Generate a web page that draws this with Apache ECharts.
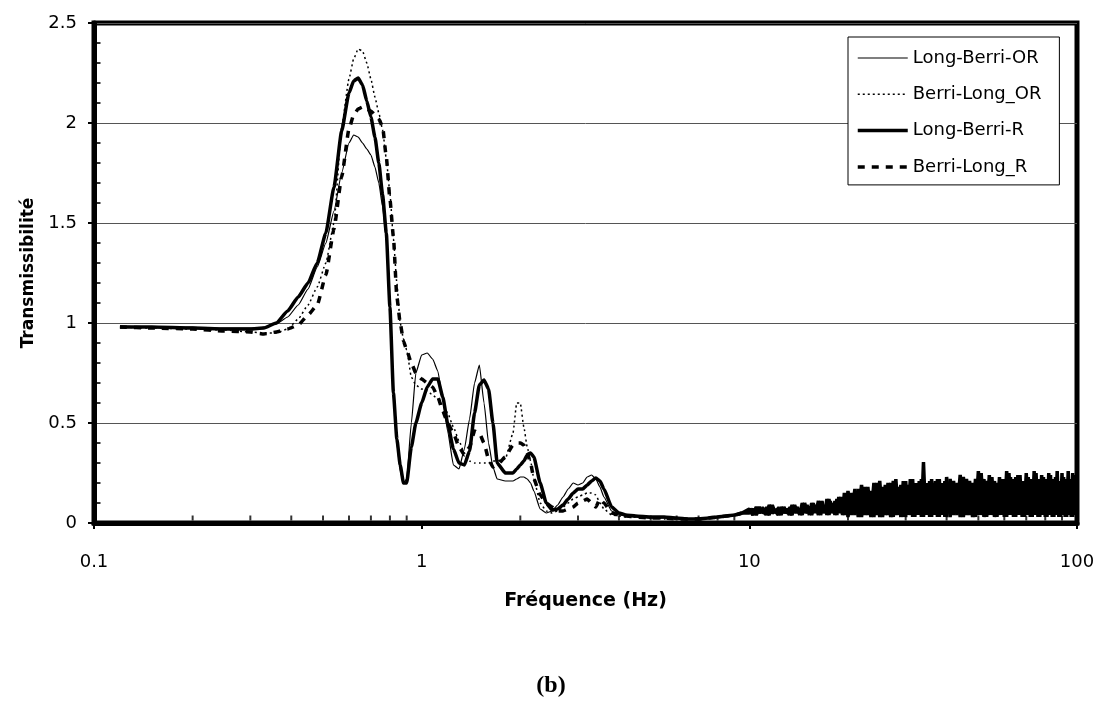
<!DOCTYPE html>
<html><head><meta charset="utf-8">
<script src="https://cdn.jsdelivr.net/npm/echarts@6/dist/echarts.min.js"></script>
<style>html,body{margin:0;padding:0;background:#fff}#c{width:1102px;height:704px}</style>
</head><body><div id="c"></div>
<script>
// ---------- DATA ----------
const seriesNames = ['Long-Berri-OR', 'Berri-Long_OR', 'Long-Berri-R', 'Berri-Long_R'];

// low-frequency grid (Hz)
const freqLF = [
  0.12,0.15,0.2,0.25,0.3,0.33,0.36,0.39,0.42,0.45,
  0.48,0.51,0.54,0.57,0.6,0.62,0.64,0.66,0.68,0.7,
  0.72,0.74,0.76,0.78,0.8,0.82,0.84,0.86,0.88,0.9,
  0.93,0.96,1.0,1.04,1.08,1.12,1.16,1.2,1.25,1.3,
  1.35,1.4,1.45,1.5,1.55,1.6,1.65,1.7,1.8,1.9,
  1.95,2.0,2.05,2.1,2.15,2.2,2.3,2.4,2.5,2.6,
  2.7,2.8,2.9,3.0,3.1,3.2,3.3,3.4,3.5,3.6,
  3.8,4.0,4.2,4.5,5.0,5.5,6.0,6.5,7.0,7.5,
  8.0,8.5,9.0,9.5
];
// high-frequency grid (Hz)
const freqHF = [
  10,10.25,10.5,10.75,11,11.25,11.5,11.75,12,12.25,
  12.5,12.75,13,13.25,13.5,13.75,14,14.25,14.5,14.75,
  15,15.25,15.5,15.75,16,16.25,16.5,16.75,17,17.25,
  17.5,17.75,18,18.25,18.5,18.75,19,19.25,19.5,19.75,
  20,20.5,21,21.5,22,22.5,23,23.5,24,24.5,
  25,25.5,26,26.5,27,27.5,28,28.5,29,29.5,
  30,30.5,31,31.5,32,32.5,33,33.5,34,34.5,
  35,35.5,36,36.5,37,37.5,38,38.5,39,39.5,
  40,41,42,43,44,45,46,47,48,49,
  50,51,52,53,54,55,56,57,58,59,
  60,61,62,63,64,65,66,67,68,69,
  70,71,72,73,74,75,76,77,78,79,
  80,81,82,83,84,85,86,87,88,89,
  90,91,92,93,94,95,96,97,98,99,
  100
];

// Long-Berri-OR (thin solid)
const longBerriOR_LF = [
  0.985,0.98,0.98,0.975,0.975,0.98,0.995,1.03,1.09,1.17,
  1.28,1.4,1.56,1.75,1.9,1.94,1.93,1.9,1.87,1.84,
  1.78,1.7,1.58,1.42,1.05,0.66,0.4,0.26,0.2,0.22,
  0.5,0.75,0.84,0.85,0.82,0.76,0.62,0.46,0.29,0.27,
  0.37,0.52,0.7,0.79,0.6,0.4,0.28,0.22,0.21,0.21,
  0.22,0.23,0.23,0.22,0.2,0.16,0.07,0.05,0.06,0.09,
  0.13,0.17,0.2,0.19,0.2,0.23,0.24,0.22,0.18,0.13,
  0.06,0.04,0.035,0.03,0.025,0.025,0.02,0.02,0.02,0.025,
  0.03,0.035,0.04,0.05
];
const longBerriOR_HF = [
  0.06,0.05,0.07,0.06,0.05,0.08,0.06,0.05,0.07,0.06,
  0.05,0.07,0.06,0.08,0.05,0.07,0.06,0.05,0.08,0.06,
  0.07,0.05,0.09,0.06,0.07,0.05,0.1,0.06,0.08,0.05,
  0.1,0.06,0.09,0.05,0.11,0.06,0.1,0.05,0.12,0.06,
  0.1,0.06,0.14,0.08,0.12,0.05,0.15,0.08,0.13,0.06,
  0.16,0.07,0.13,0.05,0.17,0.08,0.14,0.06,0.18,0.07,
  0.14,0.05,0.17,0.08,0.13,0.06,0.18,0.07,0.14,0.05,
  0.18,0.08,0.14,0.06,0.17,0.07,0.15,0.05,0.18,0.08,
  0.15,0.06,0.18,0.08,0.14,0.05,0.19,0.07,0.15,0.06,
  0.2,0.08,0.15,0.05,0.19,0.07,0.14,0.06,0.2,0.08,
  0.16,0.05,0.19,0.07,0.15,0.06,0.2,0.08,0.16,0.05,
  0.21,0.07,0.15,0.06,0.19,0.08,0.16,0.05,0.2,0.07,
  0.16,0.06,0.2,0.08,0.15,0.05,0.21,0.07,0.16,0.06,
  0.19,0.08,0.15,0.05,0.21,0.07,0.16,0.06,0.2,0.08,
  0.15
];

// Berri-Long_OR (dotted)
const berriLongOR_LF = [
  0.98,0.975,0.97,0.965,0.955,0.95,0.95,0.97,1.02,1.09,
  1.18,1.3,1.5,1.98,2.22,2.32,2.37,2.36,2.3,2.22,
  2.13,2.05,1.965,1.82,1.65,1.42,1.2,1.0,0.92,0.865,
  0.73,0.69,0.67,0.66,0.64,0.62,0.59,0.55,0.48,0.41,
  0.35,0.31,0.3,0.3,0.3,0.3,0.31,0.31,0.32,0.45,
  0.6,0.6,0.48,0.38,0.31,0.22,0.1,0.06,0.05,0.06,
  0.08,0.1,0.12,0.13,0.14,0.15,0.15,0.14,0.1,0.07,
  0.04,0.035,0.03,0.03,0.025,0.02,0.02,0.02,0.02,0.025,
  0.03,0.035,0.04,0.05
];
const berriLongOR_HF = [
  0.05,0.07,0.06,0.05,0.08,0.06,0.05,0.07,0.06,0.08,
  0.05,0.06,0.07,0.05,0.08,0.06,0.07,0.05,0.09,0.06,
  0.05,0.08,0.06,0.1,0.05,0.07,0.06,0.11,0.05,0.08,
  0.06,0.11,0.05,0.09,0.06,0.12,0.05,0.1,0.06,0.13,
  0.05,0.13,0.07,0.15,0.05,0.16,0.07,0.14,0.05,0.17,
  0.07,0.15,0.05,0.17,0.08,0.18,0.05,0.16,0.07,0.18,
  0.05,0.16,0.08,0.19,0.05,0.17,0.07,0.18,0.05,0.16,
  0.07,0.19,0.05,0.17,0.08,0.18,0.05,0.19,0.07,0.17,
  0.06,0.19,0.08,0.17,0.05,0.21,0.07,0.18,0.06,0.2,
  0.08,0.22,0.05,0.18,0.07,0.21,0.06,0.19,0.08,0.21,
  0.05,0.19,0.07,0.23,0.06,0.18,0.08,0.21,0.05,0.2,
  0.07,0.22,0.06,0.18,0.08,0.21,0.05,0.2,0.07,0.23,
  0.06,0.19,0.08,0.21,0.05,0.19,0.07,0.24,0.06,0.2,
  0.08,0.21,0.05,0.19,0.07,0.22,0.06,0.21,0.08,0.2,
  0.06
];

// Long-Berri-R (thick solid)
const longBerriR_LF = [
  0.98,0.98,0.975,0.97,0.97,0.975,1.0,1.06,1.13,1.2,
  1.3,1.45,1.68,1.96,2.15,2.21,2.225,2.19,2.11,2.03,
  1.93,1.8,1.64,1.45,1.08,0.65,0.42,0.29,0.2,0.2,
  0.38,0.5,0.6,0.68,0.72,0.72,0.63,0.5,0.37,0.3,
  0.29,0.36,0.55,0.69,0.715,0.67,0.5,0.3,0.25,0.25,
  0.27,0.29,0.31,0.34,0.35,0.33,0.2,0.1,0.065,0.07,
  0.09,0.12,0.15,0.17,0.17,0.19,0.21,0.225,0.21,0.17,
  0.08,0.05,0.04,0.035,0.03,0.03,0.025,0.02,0.02,0.025,
  0.03,0.035,0.04,0.05
];
const longBerriR_HF = [
  0.05,0.07,0.04,0.08,0.05,0.06,0.04,0.09,0.05,0.07,
  0.04,0.08,0.05,0.06,0.04,0.09,0.05,0.07,0.04,0.1,
  0.05,0.08,0.04,0.09,0.06,0.11,0.04,0.08,0.05,0.12,
  0.04,0.09,0.05,0.11,0.04,0.13,0.05,0.1,0.04,0.14,
  0.03,0.15,0.04,0.17,0.03,0.18,0.04,0.16,0.03,0.2,
  0.03,0.18,0.04,0.2,0.03,0.21,0.04,0.18,0.03,0.21,
  0.03,0.19,0.04,0.22,0.03,0.2,0.04,0.22,0.03,0.19,
  0.04,0.21,0.03,0.2,0.04,0.22,0.03,0.2,0.04,0.21,
  0.03,0.22,0.04,0.2,0.03,0.23,0.04,0.21,0.03,0.22,
  0.04,0.25,0.03,0.21,0.04,0.23,0.03,0.2,0.04,0.22,
  0.03,0.26,0.04,0.21,0.03,0.23,0.04,0.24,0.03,0.21,
  0.04,0.23,0.03,0.2,0.04,0.25,0.03,0.22,0.04,0.23,
  0.03,0.21,0.04,0.24,0.03,0.22,0.04,0.26,0.03,0.21,
  0.04,0.23,0.03,0.2,0.04,0.22,0.03,0.25,0.04,0.22,
  0.04
];

// Berri-Long_R (thick dashed)
const berriLongR_LF = [
  0.98,0.975,0.97,0.96,0.955,0.945,0.955,0.97,0.99,1.04,
  1.09,1.24,1.47,1.73,1.97,2.04,2.07,2.08,2.07,2.06,
  2.04,2.02,1.98,1.83,1.62,1.43,1.13,1.0,0.91,0.865,
  0.8,0.75,0.72,0.7,0.68,0.63,0.56,0.5,0.45,0.38,
  0.34,0.38,0.46,0.45,0.4,0.32,0.28,0.29,0.33,0.39,
  0.4,0.4,0.39,0.35,0.3,0.22,0.14,0.1,0.08,0.06,
  0.06,0.07,0.08,0.1,0.11,0.12,0.1,0.08,0.12,0.1,
  0.05,0.04,0.035,0.03,0.025,0.025,0.02,0.02,0.02,0.025,
  0.03,0.035,0.04,0.05
];
const berriLongR_HF = [
  0.07,0.04,0.08,0.05,0.07,0.04,0.09,0.05,0.06,0.04,
  0.08,0.05,0.07,0.04,0.09,0.05,0.08,0.04,0.1,0.05,
  0.09,0.04,0.1,0.05,0.08,0.04,0.11,0.05,0.09,0.04,
  0.12,0.05,0.1,0.04,0.12,0.05,0.13,0.04,0.15,0.05,
  0.16,0.04,0.17,0.03,0.19,0.04,0.18,0.03,0.2,0.04,
  0.21,0.03,0.19,0.04,0.2,0.03,0.22,0.04,0.19,0.03,
  0.21,0.04,0.22,0.03,0.2,0.04,0.21,0.03,0.305,0.04,
  0.2,0.03,0.22,0.04,0.21,0.03,0.22,0.04,0.2,0.03,
  0.23,0.03,0.21,0.04,0.24,0.03,0.22,0.04,0.2,0.03,
  0.26,0.04,0.22,0.03,0.24,0.04,0.21,0.03,0.23,0.04,
  0.22,0.03,0.25,0.04,0.22,0.03,0.24,0.04,0.21,0.03,
  0.25,0.04,0.22,0.03,0.26,0.04,0.21,0.03,0.24,0.04,
  0.22,0.03,0.25,0.04,0.22,0.03,0.23,0.04,0.21,0.03,
  0.25,0.04,0.22,0.03,0.26,0.04,0.21,0.03,0.24,0.04,
  0.23
];

// axis ticks
const xMinorTicks = [0.2,0.3,0.4,0.5,0.6,0.7,0.8,0.9,2,3,4,5,6,7,8,9,20,30,40,50,60,70,80,90];
const yMinorTicks = [0.1,0.2,0.3,0.4,0.6,0.7,0.8,0.9,1.1,1.2,1.3,1.4,1.6,1.7,1.8,1.9,2.1,2.2,2.3,2.4];

// ---------- CHART ----------
const FONT = '"DejaVu Sans", "Liberation Sans", Arial, sans-serif';
const lastLF = freqLF.length - 1;

function lfSeries(name, lf, style, z) {
  return {
    name: name, type: 'line', data: freqLF.map((f, i) => [f, lf[i]]),
    symbol: 'none', showSymbol: false, smooth: 0.15, smoothMonotone: 'x',
    lineStyle: Object.assign({ color: '#000' }, style),
    itemStyle: { color: '#000' }, z: z, silent: true
  };
}
function hfSeries(name, lf, hf, style, z) {
  const data = [[freqLF[lastLF], lf[lastLF]]].concat(freqHF.map((f, i) => [f, hf[i]]));
  return {
    name: name, type: 'line', data: data,
    symbol: 'none', showSymbol: false, smooth: false,
    lineStyle: Object.assign({ color: '#000' }, style),
    itemStyle: { color: '#000' }, z: z, silent: true
  };
}

const chart = echarts.init(document.getElementById('c'), null, { renderer: 'canvas' });
chart.setOption({
  animation: false,
  backgroundColor: '#fff',
  title: {
    text: '(b)', left: 'center', top: 669,
    textStyle: { fontFamily: '"Liberation Serif", "Times New Roman", serif', fontWeight: 'bold', fontSize: 24, color: '#000' }
  },
  legend: {
    data: seriesNames, orient: 'vertical', left: 848, top: 37,
    padding: [11, 18, 8, 8], itemWidth: 50, itemHeight: 14, itemGap: 16.3,
    backgroundColor: '#fff', borderColor: '#000', borderWidth: 1, borderRadius: 0,
    itemStyle: { opacity: 0, borderWidth: 0 },
    lineStyle: { width: 'inherit', type: 'inherit', color: 'inherit' },
    textStyle: { fontFamily: FONT, fontSize: 18, color: '#000', lineHeight: 20 },
    selectedMode: false
  },
  grid: { left: 94, right: 25, top: 23, bottom: 181, show: true, borderColor: '#000', borderWidth: 5, backgroundColor: 'transparent' },
  xAxis: {
    type: 'log', logBase: 10, min: 0.1, max: 100,
    name: 'Fréquence (Hz)', nameLocation: 'middle', nameGap: 69,
    nameTextStyle: { fontFamily: FONT, fontWeight: 'bold', fontSize: 19, color: '#000' },
    axisLine: { show: true, onZero: false, lineStyle: { color: '#000', width: 5 } },
    axisTick: { show: true, length: 6, lineStyle: { color: '#000', width: 2 } },
    axisLabel: { fontFamily: FONT, fontSize: 18, color: '#000', margin: 30, formatter: v => String(+(+v).toPrecision(3)) },
    splitLine: { show: false }, minorTick: { show: false }
  },
  yAxis: {
    type: 'value', min: 0, max: 2.5, interval: 0.5,
    name: 'Transmissibilité', nameLocation: 'middle', nameGap: 56, nameRotate: 90,
    nameTextStyle: { fontFamily: FONT, fontWeight: 'bold', fontSize: 17, color: '#000' },
    axisLine: { show: true, lineStyle: { color: '#000', width: 5 } },
    axisTick: { show: true, length: 6, lineStyle: { color: '#000', width: 2 } },
    axisLabel: { fontFamily: FONT, fontSize: 18, color: '#000', margin: 17 },
    splitLine: { show: true, lineStyle: { color: '#555', width: 1 } }
  },
  series: [
    lfSeries('Long-Berri-OR', longBerriOR_LF, { width: 1.2, type: 'solid' }, 2),
    lfSeries('Berri-Long_OR', berriLongOR_LF, { width: 1.5, type: [2, 3] }, 3),
    lfSeries('Long-Berri-R', longBerriR_LF, { width: 3.5, type: 'solid' }, 4),
    lfSeries('Berri-Long_R', berriLongR_LF, { width: 3.5, type: [7, 7] }, 5),
    hfSeries('Long-Berri-OR', longBerriOR_LF, longBerriOR_HF, { width: 2, type: 'solid' }, 2),
    hfSeries('Berri-Long_OR', berriLongOR_LF, berriLongOR_HF, { width: 2, type: 'solid' }, 3),
    hfSeries('Long-Berri-R', longBerriR_LF, longBerriR_HF, { width: 3.5, type: 'solid' }, 4),
    hfSeries('Berri-Long_R', berriLongR_LF, berriLongR_HF, { width: 3.5, type: 'solid' }, 5),
    {
      name: 'xMinor', type: 'scatter', data: xMinorTicks.map(f => [f, 0]),
      symbol: 'rect', symbolSize: [2, 5], symbolOffset: [0, -5], clip: false, silent: true,
      itemStyle: { color: '#000' }, z: 6
    },
    {
      name: 'yMinor', type: 'scatter', data: yMinorTicks.map(v => [0.1, v]),
      symbol: 'rect', symbolSize: [4, 2], symbolOffset: [4.5, 0], clip: false, silent: true,
      itemStyle: { color: '#000' }, z: 6
    }
  ]
});
</script></body></html>
